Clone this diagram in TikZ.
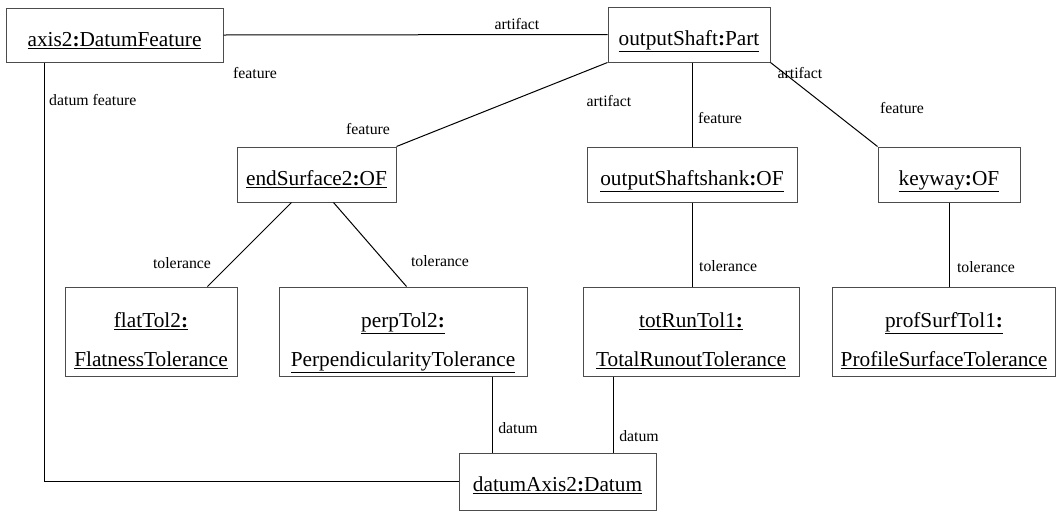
\documentclass[tikz,border=0pt]{standalone}
\usepackage{fontspec}
\setmainfont{Liberation Serif}
\begin{document}
\begin{tikzpicture}[x=1pt,y=-1pt,
  umlbox/.style={draw=black!70, line width=1pt, inner sep=0pt, rectangle},
  objtext/.style={inner sep=0pt, anchor=base, font=\fontsize{21.3}{25}\selectfont},
  rolelbl/.style={inner sep=0pt, font=\fontsize{15.8}{18}\selectfont},
  conn/.style={draw=black, line width=1pt}]
\useasboundingbox (0,0) rectangle (1058,512);

% boxes
\node[umlbox, minimum width=217pt, minimum height=54pt] (axis2) at (114.5,35) {};
\node[umlbox, minimum width=162pt, minimum height=55pt] (os) at (689,34.5) {};
\node[umlbox, minimum width=159pt, minimum height=55pt] (es) at (316.5,174.5) {};
\node[umlbox, minimum width=210pt, minimum height=55pt] (sh) at (692,174.5) {};
\node[umlbox, minimum width=142pt, minimum height=55pt] (kw) at (949,174.5) {};
\node[umlbox, minimum width=172pt, minimum height=89pt] (ft) at (151,331.5) {};
\node[umlbox, minimum width=248pt, minimum height=89pt] (pt) at (403,331.5) {};
\node[umlbox, minimum width=216pt, minimum height=89pt] (tr) at (691,331.5) {};
\node[umlbox, minimum width=223pt, minimum height=89pt] (ps) at (944,331.5) {};
\node[umlbox, minimum width=197pt, minimum height=57pt] (da) at (557.5,481.5) {};

% box texts
\node[objtext] (axis2t) at ([yshift=-39pt]axis2.north) {\underline{axis2\textbf{:}DatumFeature}};
\node[objtext] (ost) at ([yshift=-39pt]os.north) {\underline{outputShaft\textbf{:}Part}};
\node[objtext] (est) at ([yshift=-39pt]es.north) {\underline{endSurface2\textbf{:}OF}};
\node[objtext] (sht) at ([yshift=-39pt]sh.north) {\underline{outputShaftshank\textbf{:}OF}};
\node[objtext] (kwt) at ([yshift=-39pt]kw.north) {\underline{keyway\textbf{:}OF}};
\node[objtext] (ft1) at ([yshift=-41pt]ft.north) {\underline{flatTol2\textbf{:}}};
\node[objtext] (ft2) at ([yshift=-80pt]ft.north) {\underline{FlatnessTolerance}};
\node[objtext] (pt1) at ([yshift=-41pt]pt.north) {\underline{perpTol2\textbf{:}}};
\node[objtext] (pt2) at ([yshift=-80pt]pt.north) {\underline{PerpendicularityTolerance}};
\node[objtext] (tr1) at ([yshift=-41pt]tr.north) {\underline{totRunTol1\textbf{:}}};
\node[objtext] (tr2) at ([yshift=-80pt]tr.north) {\underline{TotalRunoutTolerance}};
\node[objtext] (ps1) at ([yshift=-41pt]ps.north) {\underline{profSurfTol1\textbf{:}}};
\node[objtext] (ps2) at ([yshift=-80pt]ps.north) {\underline{ProfileSurfaceTolerance}};
\node[objtext] (dat) at ([yshift=-39pt]da.north) {\underline{datumAxis2\textbf{:}Datum}};

% connectors
\draw[conn] (axis2.east) -- (os.west);
\draw[conn] ([xshift=39pt]axis2.south west) |- (da.west);
\draw[conn] (os.south west) -- (es.north east);
\draw[conn] (os.south -| sh.north) -- (sh.north);
\draw[conn] (os.south east) -- (kw.north west);
\draw[conn] ([xshift=55pt]es.south west) -- ([xshift=143pt]ft.north west);
\draw[conn] ([xshift=97pt]es.south west) -- ([xshift=128pt]pt.north west);
\draw[conn] (sh.south) -- (sh.south |- tr.north);
\draw[conn] (kw.south) -- (kw.south |- ps.north);
\draw[conn] ([xshift=89pt]pt.south) -- ([xshift=89pt]pt.south |- da.north);
\draw[conn] ([xshift=-78pt]tr.south) -- ([xshift=-78pt]tr.south |- da.north);

% role labels
\node[rolelbl] (l1) at (517,24) {artifact};
\node[rolelbl] (l2) at (255,73) {feature};
\node[rolelbl, anchor=west] (l3) at (49,100) {datum feature};
\node[rolelbl] (l4) at (609,101) {artifact};
\node[rolelbl] (l5) at (368,129) {feature};
\node[rolelbl] (l6) at (800,73) {artifact};
\node[rolelbl] (l7) at (720,118) {feature};
\node[rolelbl] (l8) at (902,108) {feature};
\node[rolelbl] (l9) at (182,263) {tolerance};
\node[rolelbl] (l10) at (440,261) {tolerance};
\node[rolelbl, anchor=west] (l11) at (699,266) {tolerance};
\node[rolelbl] (l12) at (986,267) {tolerance};
\node[rolelbl] (l13) at (518,428) {datum};
\node[rolelbl] (l14) at (639,436) {datum};
\end{tikzpicture}
\end{document}
